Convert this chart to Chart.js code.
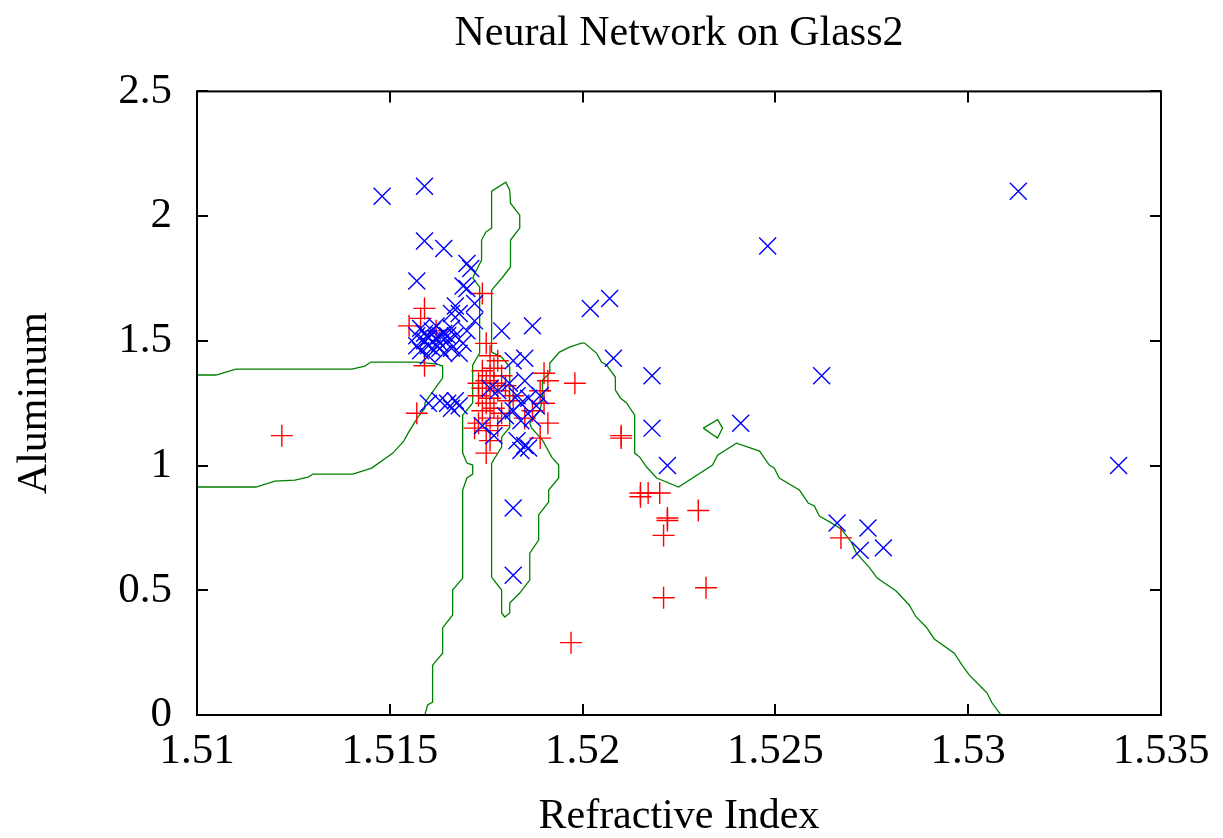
<!DOCTYPE html>
<html>
<head>
<meta charset="utf-8">
<script src="https://cdn.jsdelivr.net/npm/chart.js@4/dist/chart.umd.min.js"></script>
<style>
  html, body { margin: 0; padding: 0; background: #fff; }
  canvas { display: block; }
</style>
</head>
<body>
<canvas id="chart" width="1223" height="838"></canvas>
<script>
// tick values of the two axes
const xTicks = [1.51, 1.515, 1.52, 1.525, 1.53, 1.535];
const yTicks = [0, 0.5, 1, 1.5, 2, 2.5];

// class drawn as blue x  [refractive index, aluminum]
const classX = [
  [1.5148, 2.08], [1.5159, 2.12], [1.5159, 1.90], [1.5164, 1.87], [1.5157, 1.74],
  [1.5170, 1.81], [1.5171, 1.79], [1.5169, 1.72], [1.5170, 1.71], [1.5172, 1.65],
  [1.5167, 1.64], [1.5166, 1.61], [1.5168, 1.61], [1.5172, 1.58], [1.5179, 1.54],
  [1.5187, 1.56],
  [1.5158, 1.55], [1.5157, 1.52], [1.5159, 1.50], [1.5160, 1.48], [1.5158, 1.46],
  [1.5161, 1.54], [1.5162, 1.51], [1.5163, 1.49], [1.5164, 1.53], [1.5165, 1.50],
  [1.5166, 1.47], [1.5167, 1.52], [1.5168, 1.45], [1.5160, 1.44], [1.5162, 1.56],
  [1.5164, 1.45], [1.5166, 1.55], [1.5169, 1.49], [1.5163, 1.47], [1.5159, 1.53],
  [1.5161, 1.47], [1.5165, 1.52], [1.5170, 1.54], [1.5157, 1.48], [1.5160, 1.51],
  [1.5163, 1.52],
  [1.5160, 1.25], [1.5163, 1.26], [1.5165, 1.25], [1.5166, 1.23], [1.5167, 1.26],
  [1.5168, 1.24],
  [1.5182, 1.42], [1.5185, 1.43], [1.5178, 1.30], [1.5181, 1.33], [1.5183, 1.28],
  [1.5185, 1.34], [1.5184, 1.25], [1.5186, 1.27], [1.5182, 1.22], [1.5188, 1.24],
  [1.5180, 1.20], [1.5184, 1.18], [1.5183, 1.10], [1.5185, 1.08], [1.5186, 1.07],
  [1.5184, 1.06], [1.5189, 1.28], [1.5174, 1.16], [1.5177, 1.12], [1.5176, 1.31],
  [1.5187, 1.19],
  [1.5182, 0.83], [1.5182, 0.56],
  [1.5202, 1.63], [1.5207, 1.67], [1.5208, 1.43], [1.5218, 1.36], [1.5218, 1.15],
  [1.5222, 1.00], [1.5248, 1.88], [1.5241, 1.17], [1.5262, 1.36], [1.5313, 2.10],
  [1.5339, 1.00], [1.5266, 0.77], [1.5274, 0.75], [1.5272, 0.66], [1.5278, 0.67]
];

// class drawn as red +
const classPlus = [
  [1.5122, 1.12], [1.5157, 1.21], [1.5159, 1.63], [1.5158, 1.59], [1.5155, 1.56],
  [1.5162, 1.54], [1.5159, 1.40], [1.5174, 1.69], [1.5175, 1.49], [1.5176, 1.44],
  [1.5178, 1.42],
  [1.5174, 1.38], [1.5176, 1.36], [1.5175, 1.34], [1.5177, 1.33], [1.5174, 1.31],
  [1.5178, 1.30], [1.5173, 1.28], [1.5176, 1.27], [1.5175, 1.25], [1.5177, 1.23],
  [1.5174, 1.22], [1.5179, 1.21], [1.5176, 1.19], [1.5173, 1.17], [1.5178, 1.16],
  [1.5175, 1.14], [1.5172, 1.15], [1.5180, 1.32], [1.5181, 1.26], [1.5176, 1.10],
  [1.5175, 1.05], [1.5177, 1.39], [1.5179, 1.36], [1.5173, 1.33], [1.5182, 1.28],
  [1.5190, 1.37], [1.5191, 1.34], [1.5189, 1.30], [1.5190, 1.25], [1.5187, 1.22],
  [1.5191, 1.17], [1.5189, 1.11], [1.5185, 1.19], [1.5198, 1.33],
  [1.5210, 1.12], [1.5210, 1.11], [1.5215, 0.89], [1.5215, 0.875], [1.5217, 0.89],
  [1.5220, 0.89], [1.5222, 0.79], [1.5222, 0.78], [1.5221, 0.72], [1.5230, 0.82],
  [1.5221, 0.47], [1.5232, 0.51], [1.5197, 0.29], [1.5267, 0.71]
];

// decision boundary, left lobe
const boundaryLeft = [
  [1.51, 1.363], [1.51049, 1.363], [1.51101, 1.387], [1.51402, 1.387], [1.51435, 1.399],
  [1.51451, 1.415], [1.5157, 1.415], [1.51622, 1.407], [1.51637, 1.399], [1.51637, 1.351],
  [1.51622, 1.319], [1.51611, 1.295], [1.51596, 1.263], [1.51591, 1.251], [1.51591, 1.230],
  [1.51573, 1.194], [1.51557, 1.154], [1.51549, 1.134], [1.51536, 1.098], [1.51508, 1.050],
  [1.51453, 0.990], [1.51404, 0.966], [1.51301, 0.966], [1.51288, 0.954], [1.51254, 0.942],
  [1.51202, 0.938], [1.51153, 0.914], [1.51, 0.914]
];

// decision boundary, long curve from the bottom through the middle to the right
const boundaryMain = [
  [1.51591, 0], [1.51598, 0.040], [1.51611, 0.052], [1.51611, 0.200], [1.51637, 0.248],
  [1.51637, 0.349], [1.51663, 0.401], [1.51663, 0.501], [1.51689, 0.549], [1.51689, 0.902],
  [1.517, 0.950], [1.51715, 0.966], [1.51715, 1.002], [1.517, 1.010], [1.51689, 1.050],
  [1.51689, 1.202], [1.51715, 1.251], [1.51715, 1.403], [1.51733, 1.451], [1.51733, 1.715],
  [1.51715, 1.752], [1.51725, 1.784], [1.51738, 1.824], [1.51738, 1.904], [1.51749, 1.936],
  [1.51764, 1.952], [1.51764, 2.100], [1.51801, 2.136], [1.51811, 2.104], [1.51813, 2.052],
  [1.51837, 2.004], [1.51837, 1.952], [1.51813, 1.904], [1.51813, 1.796], [1.51793, 1.756],
  [1.51764, 1.703], [1.51764, 1.455], [1.5179, 1.435], [1.51811, 1.395], [1.51811, 1.154],
  [1.5179, 1.114], [1.5179, 1.074], [1.51764, 1.010], [1.51764, 0.553], [1.5179, 0.501],
  [1.5179, 0.409], [1.51798, 0.393], [1.51811, 0.409], [1.51811, 0.449], [1.51837, 0.489],
  [1.51863, 0.541], [1.51863, 0.649], [1.51886, 0.701], [1.51886, 0.802], [1.51912, 0.854],
  [1.51912, 0.902], [1.51938, 0.950], [1.51938, 1.002], [1.5192, 1.034], [1.51896, 1.102],
  [1.51868, 1.150], [1.51863, 1.170], [1.51889, 1.222], [1.51896, 1.263], [1.51896, 1.343],
  [1.51915, 1.371], [1.51915, 1.411], [1.5194, 1.455], [1.51966, 1.475], [1.51997, 1.491],
  [1.52005, 1.491], [1.52036, 1.451], [1.52049, 1.415], [1.52062, 1.403], [1.52085, 1.355],
  [1.52085, 1.303], [1.52098, 1.271], [1.52114, 1.251], [1.52135, 1.202], [1.52135, 1.050],
  [1.52148, 1.034], [1.52166, 0.994], [1.52192, 0.950], [1.52249, 0.914], [1.52337, 1.002],
  [1.5235, 1.042], [1.52399, 1.090], [1.52459, 1.058], [1.52484, 1.002], [1.52497, 0.990],
  [1.5251, 0.950], [1.52562, 0.902], [1.52585, 0.850], [1.52601, 0.838], [1.52614, 0.798],
  [1.52645, 0.770], [1.52671, 0.745], [1.52697, 0.693], [1.5271, 0.649], [1.52743, 0.593],
  [1.52764, 0.549], [1.52813, 0.497], [1.52847, 0.441], [1.52865, 0.393], [1.52891, 0.353],
  [1.52912, 0.305], [1.52964, 0.248], [1.52984, 0.200], [1.53003, 0.160], [1.53036, 0.108],
  [1.53049, 0.088], [1.53062, 0.048], [1.53085, 0]
];

// small closed island of the boundary
const boundaryIsland = [
  [1.52313, 1.15], [1.5235, 1.184], [1.52363, 1.15], [1.5235, 1.11], [1.52313, 1.15]
];

const toXY = arr => arr.map(p => ({ x: p[0], y: p[1] }));
const serif = '"Liberation Serif", "Times New Roman", serif';
const green = 'rgb(0,128,0)';

function lineSet(pts) {
    return {
        type: 'line',
        data: toXY(pts),
        showLine: true,
        borderColor: green,
        borderWidth: 1.3,
        pointRadius: 0,
        fill: false,
        tension: 0,
        order: 3
    };
}

// gnuplot style frame with inward ticks on all four sides
const framePlugin = {
    id: 'frame',
    afterDraw(chart) {
        const { ctx, chartArea: a, scales: { x, y } } = chart;
        ctx.save();
        ctx.strokeStyle = '#000';
        ctx.lineWidth = 2;
        ctx.strokeRect(a.left, a.top, a.right - a.left, a.bottom - a.top);
        ctx.beginPath();
        xTicks.forEach(v => {
            const px = Math.round(x.getPixelForValue(v));
            ctx.moveTo(px, a.bottom); ctx.lineTo(px, a.bottom - 11);
            ctx.moveTo(px, a.top); ctx.lineTo(px, a.top + 11);
        });
        yTicks.forEach(v => {
            const py = Math.round(y.getPixelForValue(v));
            ctx.moveTo(a.left, py); ctx.lineTo(a.left + 11, py);
            ctx.moveTo(a.right, py); ctx.lineTo(a.right - 11, py);
        });
        ctx.stroke();
        ctx.restore();
    }
};

new Chart(document.getElementById('chart'), {
    type: 'scatter',
    data: {
        datasets: [
            {
                label: 'class 1',
                data: toXY(classPlus),
                pointStyle: 'cross',
                pointRadius: 11,
                borderColor: 'rgb(255,0,0)',
                borderWidth: 1.4,
                backgroundColor: 'rgb(255,0,0)',
                order: 2
            },
            {
                label: 'class 2',
                data: toXY(classX),
                pointStyle: 'crossRot',
                pointRadius: 12,
                borderColor: 'rgb(0,0,255)',
                borderWidth: 1.4,
                backgroundColor: 'rgb(0,0,255)',
                order: 1
            },
            lineSet(boundaryLeft),
            lineSet(boundaryMain),
            lineSet(boundaryIsland)
        ]
    },
    options: {
        responsive: false,
        animation: false,
        devicePixelRatio: 1,
        layout: { padding: { left: 0, right: 62, top: 0, bottom: 0 } },
        plugins: {
            legend: { display: false },
            tooltip: { enabled: false },
            title: {
                display: true,
                fullSize: false,
                text: 'Neural Network on Glass2',
                color: '#000',
                font: { family: serif, size: 42, weight: 'normal', lineHeight: 1.2 },
                padding: { top: 9, bottom: 32 }
            }
        },
        scales: {
            x: {
                type: 'linear',
                min: 1.51,
                max: 1.535,
                grid: { display: false, drawTicks: false },
                border: { display: false },
                afterBuildTicks: axis => { axis.ticks = xTicks.map(v => ({ value: v })); },
                afterFit: axis => { axis.height = 123; },
                ticks: {
                    color: '#000',
                    padding: 11,
                    maxRotation: 0,
                    font: { family: serif, size: 43 },
                    callback: v => String(v)
                },
                title: {
                    display: true,
                    text: 'Refractive Index',
                    color: '#000',
                    font: { family: serif, size: 42, lineHeight: 1 },
                    padding: { top: 0, bottom: 0 }
                }
            },
            y: {
                type: 'linear',
                min: 0,
                max: 2.5,
                grid: { display: false, drawTicks: false },
                border: { display: false },
                afterBuildTicks: axis => { axis.ticks = yTicks.map(v => ({ value: v })); },
                afterFit: axis => { axis.width = 197; },
                ticks: {
                    color: '#000',
                    padding: 25,
                    font: { family: serif, size: 43 },
                    callback: v => String(v)
                },
                title: {
                    display: true,
                    text: 'Aluminum',
                    color: '#000',
                    font: { family: serif, size: 42, lineHeight: 1.2 },
                    padding: { top: 10, bottom: 0 }
                }
            }
        }
    },
    plugins: [framePlugin]
});
</script>
</body>
</html>
